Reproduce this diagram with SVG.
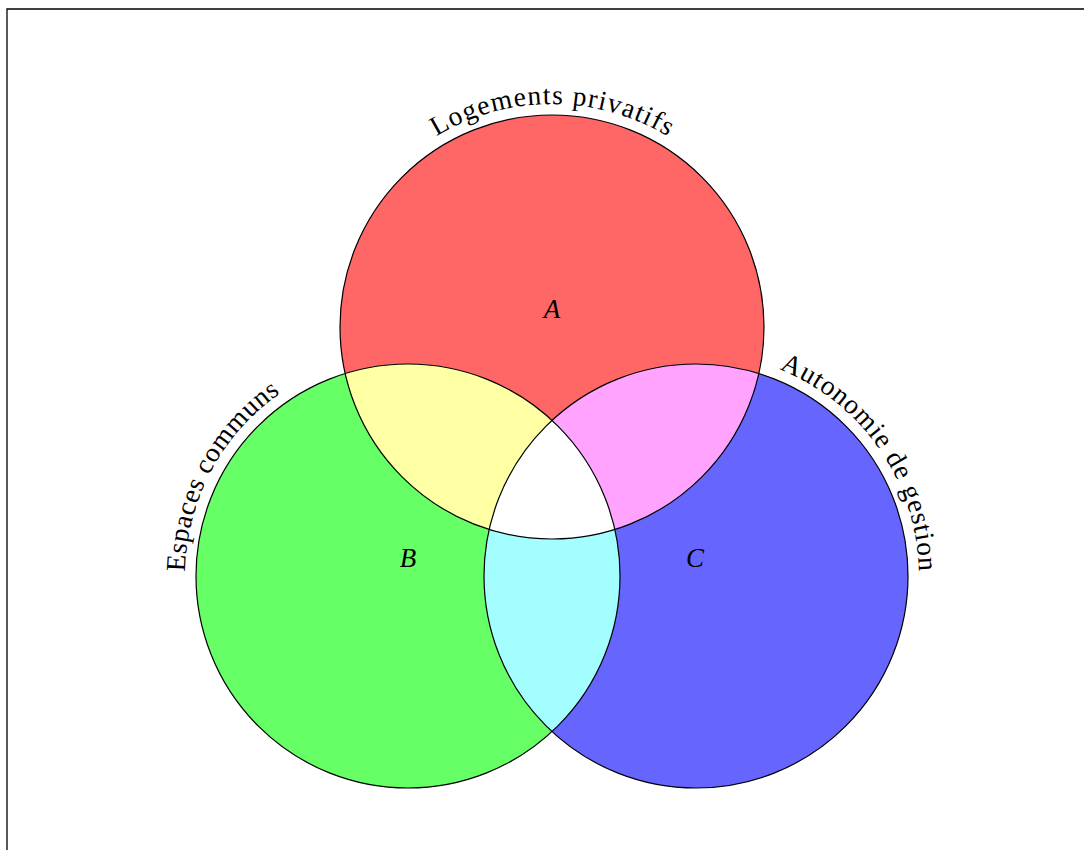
<svg xmlns="http://www.w3.org/2000/svg" width="1084" height="850" viewBox="0 0 1084 850">
<style>
.ring{fill:none;stroke:#000;stroke-width:1.2}
.arc{font-family:"Liberation Serif","DejaVu Serif",serif;font-size:27.5px;fill:#000}
.lab{font-family:"Liberation Serif","DejaVu Serif",serif;font-style:italic;font-size:27px;fill:#000;text-anchor:middle}
</style>
<defs>
<clipPath id="cA"><circle cx="552" cy="327" r="212"/></clipPath>
<clipPath id="cB"><circle cx="408" cy="576" r="212"/></clipPath>
<clipPath id="cC"><circle cx="696" cy="576" r="212"/></clipPath>
<path id="pA" d="M381.2,183.7 A223,223 0 0,1 722.8,183.7"/>
<path id="pB" d="M201.1,659.2 A223,223 0 0,1 362.0,357.8"/>
<path id="pC" d="M716.8,354.0 A223,223 0 0,1 911.0,635.0"/>
</defs>
<rect width="1084" height="850" fill="#fff"/>
<path d="M7,850 V9 H1084" fill="none" stroke="#000" stroke-width="1.3"/>
<g id="fills">
<circle cx="552" cy="327" r="212" fill="#ff6666"/>
<circle cx="408" cy="576" r="212" fill="#66ff66"/>
<circle cx="696" cy="576" r="212" fill="#6666ff"/>
<g clip-path="url(#cB)"><circle cx="552" cy="327" r="212" fill="#ffffa3"/></g>
<g clip-path="url(#cC)"><circle cx="552" cy="327" r="212" fill="#ffa3ff"/></g>
<g clip-path="url(#cC)"><circle cx="408" cy="576" r="212" fill="#a3ffff"/></g>
<g clip-path="url(#cC)"><g clip-path="url(#cB)"><circle cx="552" cy="327" r="212" fill="#ffffff"/></g></g>
</g>
<g id="nodeA">
<circle class="ring" cx="552" cy="327" r="212"/>
<text class="lab" x="552" y="318">A</text>
<text class="arc"><textPath href="#pA" startOffset="50%" text-anchor="middle" textLength="243" lengthAdjust="spacing">Logements privatifs</textPath></text>
</g>
<g id="nodeB">
<circle class="ring" cx="408" cy="576" r="212"/>
<text class="lab" x="408" y="567">B</text>
<text class="arc"><textPath href="#pB" startOffset="50%" text-anchor="middle" textLength="210" lengthAdjust="spacing">Espaces communs</textPath></text>
</g>
<g id="nodeC">
<circle class="ring" cx="696" cy="576" r="212"/>
<text class="lab" x="695" y="567">C</text>
<text class="arc"><textPath href="#pC" startOffset="50%" text-anchor="middle" textLength="260" lengthAdjust="spacing">Autonomie de gestion</textPath></text>
</g>
<g id="connectors"></g>
</svg>
